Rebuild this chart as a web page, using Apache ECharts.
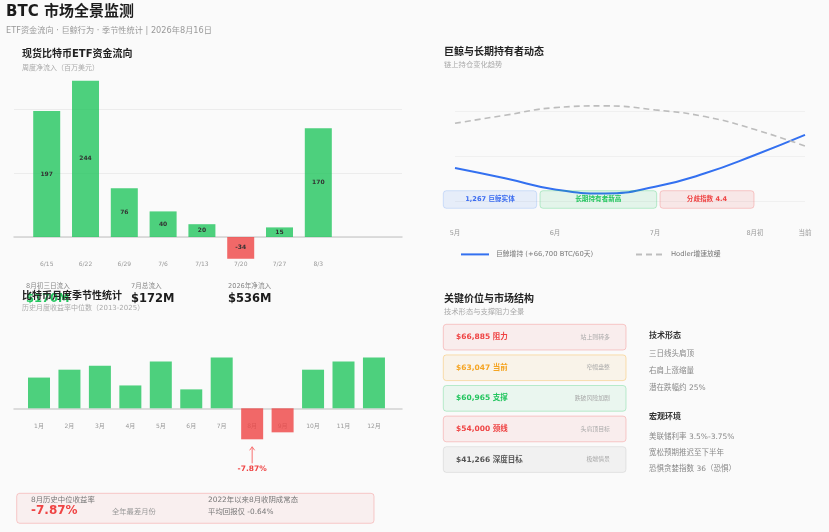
<!DOCTYPE html>
<html><head><meta charset="utf-8">
<script src="https://cdn.jsdelivr.net/npm/echarts@6/dist/echarts.min.js"></script>
<style>html,body{margin:0;padding:0;background:#fafafa;}#c{width:829px;height:532px;}</style>
</head><body><div id="c"></div>
<script>
// ---------- data ----------
const etfWeeks = ['6/15','6/22','6/29','7/6','7/13','7/20','7/27','8/3'];
const etfFlows = [197, 244, 76, 40, 20, -34, 15, 170];
const flowStatLabels = ['8月初三日流入','7月总流入','2026年净流入'];
const flowStatValues = ['$170M','$172M','$536M'];

const months = ['1月','2月','3月','4月','5月','6月','7月','8月','9月','10月','11月','12月'];
const monthMedian = [7.8, 9.8, 10.8, 5.8, 11.9, 4.8, 12.9, -7.87, -6.1, 9.8, 11.9, 12.9];

const chainDates = ['5月','','6月','','7月','','8月初','当前'];
const whaleSeries = [17.4, 15.1, 12.6, 11.7, 13.2, 16.2, 20.3, 24.8];
const hodlerSeries = [27.4, 29.2, 30.9, 31.3, 30.4, 28.9, 26.0, 22.3];
const whaleName = '巨鲸增持 (+66,700 BTC/60天)';
const hodlerName = 'Hodler增速放缓';
const chainBadges = ['1,267 巨鲸实体','长期持有者新高','分歧指数 4.4'];

const levelPrices = ['$66,885','$63,047','$60,965','$54,000','$41,266'];
const levelTags = ['阻力','当前','支撑','颈线','深度目标'];
const levelNotes = ['站上则转多','窄幅盘整','跌破风险加剧','头肩顶目标','极端情景'];
const levelTones = ['red','orange','green','red','gray'];

const techItems = ['三日线头肩顶','右肩上涨缩量','潜在跌幅约 25%'];
const macroItems = ['美联储利率 3.5%-3.75%','宽松预期推迟至下半年','恐惧贪婪指数 36（恐惧）'];

// ---------- styles ----------
const FF = "'DejaVu Sans','Noto Sans CJK SC',sans-serif";
const GREEN = 'rgba(34,197,94,0.8)', RED = 'rgba(239,68,68,0.8)';
const TONES = {
  red:    {fill:'rgba(239,68,68,0.07)',  stroke:'rgba(239,68,68,0.25)',  text:'#ef4444'},
  orange: {fill:'rgba(245,158,11,0.07)', stroke:'rgba(245,158,11,0.3)',  text:'#f5a524'},
  green:  {fill:'rgba(34,197,94,0.07)',  stroke:'rgba(34,197,94,0.28)',  text:'#22c55e'},
  gray:   {fill:'rgba(0,0,0,0.035)',     stroke:'rgba(0,0,0,0.08)',      text:'#555'},
  blue:   {fill:'rgba(59,130,246,0.08)', stroke:'rgba(59,130,246,0.2)',  text:'#3b6cf0'}
};

function T(x, y, text, size, color, weight, align, z) {
  return {type:'text', z: z || 50, style:{x:x, y:y, text:text, fill:color,
    font:(weight||'normal')+' '+size+'px '+FF, align:align||'left', verticalAlign:'middle'}};
}
function R(x, y, w, h, tone, r) {
  return {type:'rect', z:40, shape:{x:x, y:y, width:w, height:h, r:r||3},
    style:{fill:tone.fill, stroke:tone.stroke, lineWidth:1}};
}

const chart = echarts.init(document.getElementById('c'), null, {renderer:'canvas'});

const seq = n => Array.from({length:n}, (_, i) => i);

const option = {
  backgroundColor:'#fafafa',
  animation:false,
  textStyle:{fontFamily:FF},
  grid:[
    {left:14, width:388, top:45, height:256},
    {left:14, width:388, top:329.5, height:157.6},
    {left:455, right:24, top:67, bottom:286.3}
  ],
  xAxis:[
    {gridIndex:0, type:'value', min:-0.843, max:9.157,
     axisLine:{onZero:true, lineStyle:{color:'#d2d2d2', width:1.5}},
     axisTick:{show:false}, splitLine:{show:false},
     axisLabel:{customValues:seq(etfWeeks.length), formatter:v => etfWeeks[Math.round(v)] || '',
       margin:-40, color:'#999', fontSize:6, fontFamily:FF}},
    {gridIndex:1, type:'value', min:-0.821, max:11.921,
     axisLine:{onZero:true, lineStyle:{color:'#d2d2d2', width:1.5}},
     axisTick:{show:false}, splitLine:{show:false},
     axisLabel:{customValues:seq(months.length), formatter:v => months[Math.round(v)] || '',
       margin:-63.4, color:'#999', fontSize:6, fontFamily:FF}},
    {gridIndex:2, type:'category', data:chainDates, boundaryGap:false, offset:-20,
     axisLine:{show:false}, axisTick:{show:false},
     axisLabel:{interval:0, margin:4, color:'#999', fontSize:6.5, fontFamily:FF}}
  ],
  yAxis:[
    {gridIndex:0, type:'value', min:-100, max:300, interval:100,
     axisLine:{show:false}, axisTick:{show:false}, axisLabel:{show:false},
     splitLine:{show:true, showMinLine:false, showMaxLine:false, lineStyle:{color:'#ececec'}}},
    {gridIndex:1, type:'value', min:-20, max:20, interval:10,
     axisLine:{show:false}, axisTick:{show:false}, axisLabel:{show:false}, splitLine:{show:false}},
    {gridIndex:2, type:'value', min:0, max:40, interval:10,
     axisLine:{show:false}, axisTick:{show:false}, axisLabel:{show:false},
     splitLine:{show:true, showMinLine:false, showMaxLine:false, lineStyle:{color:'#f0f0f0'}}}
  ],
  legend:[
    {data:[whaleName], left:455, top:246, itemWidth:28, itemHeight:8, itemGap:10,
     itemStyle:{opacity:0},
     textStyle:{fontSize:6.8, color:'#777', fontFamily:FF, padding:[0,0,0,2]}},
    {data:[hodlerName], left:630, top:246, itemWidth:28, itemHeight:8,
     itemStyle:{opacity:0},
     textStyle:{fontSize:6.8, color:'#777', fontFamily:FF, padding:[0,0,0,2]}}
  ],
  series:[
    {type:'bar', xAxisIndex:0, yAxisIndex:0, barWidth:27,
     data:etfFlows.map((v,i) => ({value:[i,v], itemStyle:{color: v >= 0 ? GREEN : RED}})),
     label:{show:true, position:'inside', formatter:p => p.value[1], fontSize:6,
       fontWeight:'bold', color:'#333', fontFamily:FF}},
    {type:'bar', xAxisIndex:1, yAxisIndex:1, barWidth:22,
     data:monthMedian.map((v,i) => ({value:[i,v], itemStyle:{color: v >= 0 ? GREEN : RED}}))},
    {type:'line', name:whaleName, xAxisIndex:2, yAxisIndex:2, data:whaleSeries,
     smooth:0.5, symbol:'none', lineStyle:{color:'#3370f0', width:2}, itemStyle:{color:'#3370f0'}},
    {type:'line', name:hodlerName, xAxisIndex:2, yAxisIndex:2, data:hodlerSeries,
     smooth:0.5, symbol:'none', lineStyle:{color:'#bdbdbd', width:1.6, type:[6,4]}, itemStyle:{color:'#bdbdbd'}}
  ]
};

chart.setOption(option);

// ---------- text / decorations ----------
const g = [];
g.push(T(6, 11.7, 'BTC 市场全景监测', 15, '#1c1c1c', 'bold'));
g.push(T(6, 31, 'ETF资金流向 · 巨鲸行为 · 季节性统计 | 2026年8月16日', 8.2, '#999'));

g.push(T(22, 54.7, '现货比特币ETF资金流向', 10, '#222', 'bold'));
g.push(T(22, 68, '周度净流入（百万美元）', 7, '#aaa'));

const statX = [26, 131, 228];
flowStatLabels.forEach((s,i) => g.push(T(statX[i], 286, s, 6.6, '#888')));
flowStatValues.forEach((s,i) => g.push(T(statX[i], 299.5, s, 11.5, i === 0 ? '#22c55e' : '#1c1c1c', 'bold', 'left', 45)));

g.push(T(22, 296, '比特币月度季节性统计', 10, '#222', 'bold', 'left', 60));
g.push(T(22, 308, '历史月度收益率中位数（2013-2025）', 7, '#aaa', 'normal', 'left', 60));

// August callout box
g.push(R(16.7, 493.3, 357.3, 30, {fill:'rgba(239,68,68,0.06)', stroke:'rgba(239,68,68,0.25)'}, 3));
g.push(T(31, 500, '8月历史中位收益率', 7.4, '#777'));
g.push(T(31, 510.7, monthMedian[7].toFixed(2) + '%', 12, '#ef4444', 'bold'));
g.push(T(112, 512.3, '全年最差月份', 7.3, '#999'));
g.push(T(208, 500.3, '2022年以来8月收阴成常态', 7.4, '#777'));
g.push(T(208, 512.3, '平均回报仅 -0.64%', 7.4, '#777'));

// whale panel
g.push(T(444, 52.8, '巨鲸与长期持有者动态', 10, '#222', 'bold'));
g.push(T(444, 65, '链上持仓变化趋势', 7.3, '#aaa'));
const badgeBox = [[443.3, 93.4], [540, 116.7], [660, 94]];
const badgeTones = ['blue','green','red'];
chainBadges.forEach((s,i) => {
  const tn = TONES[badgeTones[i]];
  g.push(Object.assign(R(badgeBox[i][0], 190.7, badgeBox[i][1], 17.6, {fill: tn.fill.replace(/0\.0\d+\)/, '0.10)'), stroke: tn.stroke}, 3), {z:60}));
  g.push(T(badgeBox[i][0] + badgeBox[i][1] / 2, 199.5, s, 6.6, tn.text, 'bold', 'center', 61));
});

// key levels panel
g.push(T(444, 299.7, '关键价位与市场结构', 10, '#222', 'bold'));
g.push(T(444, 312, '技术形态与支撑阻力全景', 7.3, '#aaa'));
levelPrices.forEach((p,i) => {
  const tn = TONES[levelTones[i]];
  const y0 = 324.3 + i * 30.6;
  g.push(R(443.3, y0, 182.7, 25.7, tn, 3));
  g.push(T(456, y0 + 12.9, p + ' ' + levelTags[i], 7.5, tn.text, 'bold'));
  g.push(T(610, y0 + 12.9, levelNotes[i], 5.9, '#aaa', 'normal', 'right'));
});

g.push(T(649, 335.7, '技术形态', 8, '#333', 'bold'));
techItems.forEach((s,i) => g.push(T(649, 354.3 + i * 16.7, s, 7.5, '#888')));
g.push(T(649, 417.3, '宏观环境', 8, '#333', 'bold'));
macroItems.forEach((s,i) => g.push(T(649, 436.7 + i * 16.3, s, 7.5, '#888')));

// arrow annotation under the August bar
const augIdx = 7;
const pb = chart.convertToPixel({xAxisIndex:1, yAxisIndex:1}, [augIdx, monthMedian[augIdx]]);
const ax = pb[0], tipY = pb[1] + 7.5;
g.push({type:'line', z:50, shape:{x1:ax, y1:tipY, x2:ax, y2:tipY + 16.5}, style:{stroke:'#f87171', lineWidth:1}});
g.push({type:'polyline', z:50, shape:{points:[[ax - 2.5, tipY + 3.5], [ax, tipY], [ax + 2.5, tipY + 3.5]]}, style:{stroke:'#f87171', lineWidth:1, fill:null}});
g.push(T(ax, tipY + 22.5, monthMedian[augIdx].toFixed(2) + '%', 7.5, '#ef4444', 'bold', 'center'));

chart.setOption({graphic:g});
</script>
</body></html>
